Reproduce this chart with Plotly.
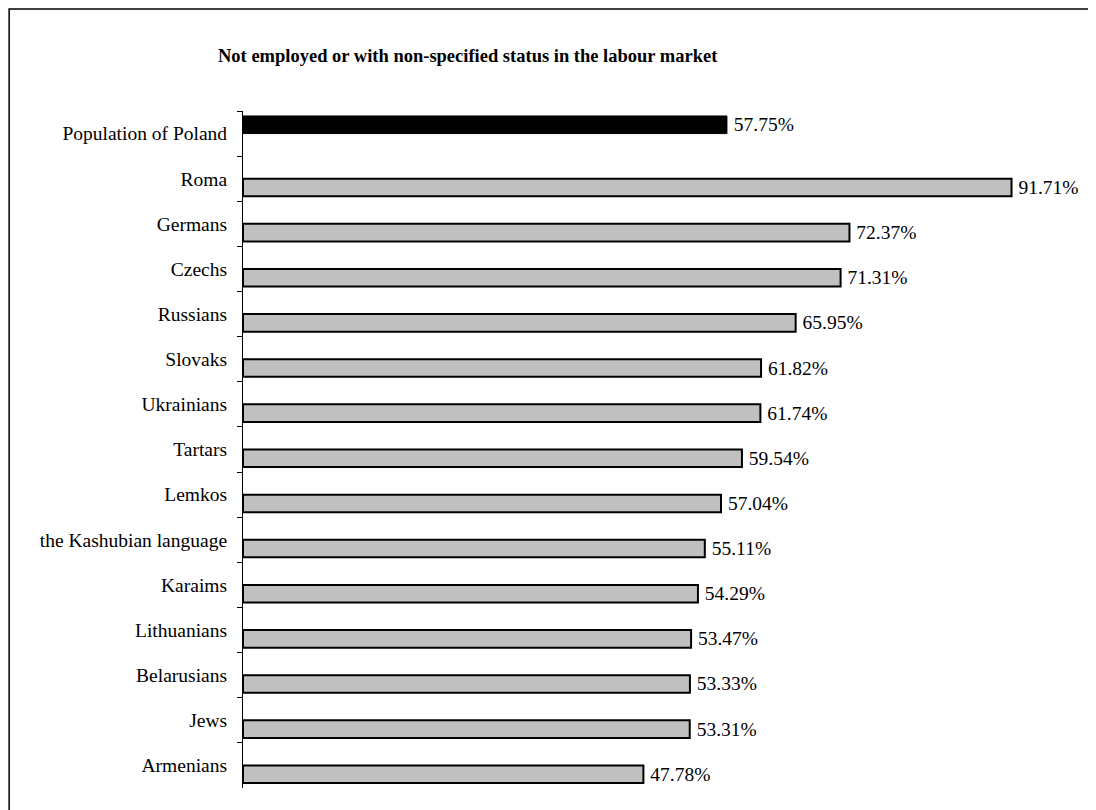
import plotly.graph_objects as go

title = "Not employed or with non-specified status in the labour market"
categories = ["Population of Poland", "Roma", "Germans", "Czechs", "Russians", "Slovaks",
              "Ukrainians", "Tartars", "Lemkos", "the Kashubian language", "Karaims",
              "Lithuanians", "Belarusians", "Jews", "Armenians"]
values = [57.75, 91.71, 72.37, 71.31, 65.95, 61.82, 61.74, 59.54, 57.04, 55.11,
          54.29, 53.47, 53.33, 53.31, 47.78]

FONT = "Liberation Serif, Times New Roman, serif"
SH = 8  # page body margin offset
W, H = 1096, 810
L, R, T, B = 243 - SH, 1096 - (1081.5 - SH), 111 - SH, 810 - (788 - SH)
pw, ph = W - L - R, H - T - B

fig = go.Figure()
fig.add_trace(go.Bar(
    y=categories[:1], x=values[:1], orientation="h",
    marker=dict(color="black", line=dict(color="black", width=1)),
    offset=-0.39, width=0.39,
    text=[f"\u2009{v:.2f}%" for v in values[:1]], textposition="outside",
    constraintext="none", cliponaxis=False,
    textfont=dict(family=FONT, size=19.5, color="black"),
))
fig.add_trace(go.Bar(
    y=categories[1:], x=values[1:], orientation="h",
    marker=dict(color="#C0C0C0", line=dict(color="black", width=2)),
    offset=0.0, width=0.39,
    text=[f"\u2009{v:.2f}%" for v in values[1:]], textposition="outside",
    constraintext="none", cliponaxis=False,
    textfont=dict(family=FONT, size=19.5, color="black"),
))

fig.update_layout(
    width=W, height=H, barmode="overlay", showlegend=False,
    paper_bgcolor="white", plot_bgcolor="white",
    margin=dict(l=L, r=R, t=T, b=B, autoexpand=False),
    font=dict(family=FONT, size=19.5, color="black"),
    xaxis=dict(range=[0, 100], visible=False, showgrid=False, zeroline=False),
    yaxis=dict(type="category", categoryorder="array", categoryarray=categories,
               range=[len(categories) - 0.5, -0.5], showgrid=False, zeroline=False,
               showline=True, linecolor="black", linewidth=1,
               ticks="outside", tickson="boundaries", ticklen=5, tickcolor="black",
               ticklabelstandoff=11,
               tickfont=dict(family=FONT, size=19.5, color="black")),
    annotations=[dict(text=f"<b>{title}</b>", xref="paper", yref="paper",
                      x=(468 - SH - L) / pw, y=(H - B - (56 - SH)) / ph,
                      xanchor="center", yanchor="middle",
                      showarrow=False, font=dict(family=FONT, size=18.5, color="black"))],
    shapes=[dict(type="rect", xref="paper", yref="paper",
                 x0=(9 - SH - L) / pw, x1=1.2, y0=-0.2, y1=(H - B - (9 - SH)) / ph,
                 line=dict(color="black", width=1.5), fillcolor="rgba(0,0,0,0)", layer="below")],
)

fig.write_html("out.html")
